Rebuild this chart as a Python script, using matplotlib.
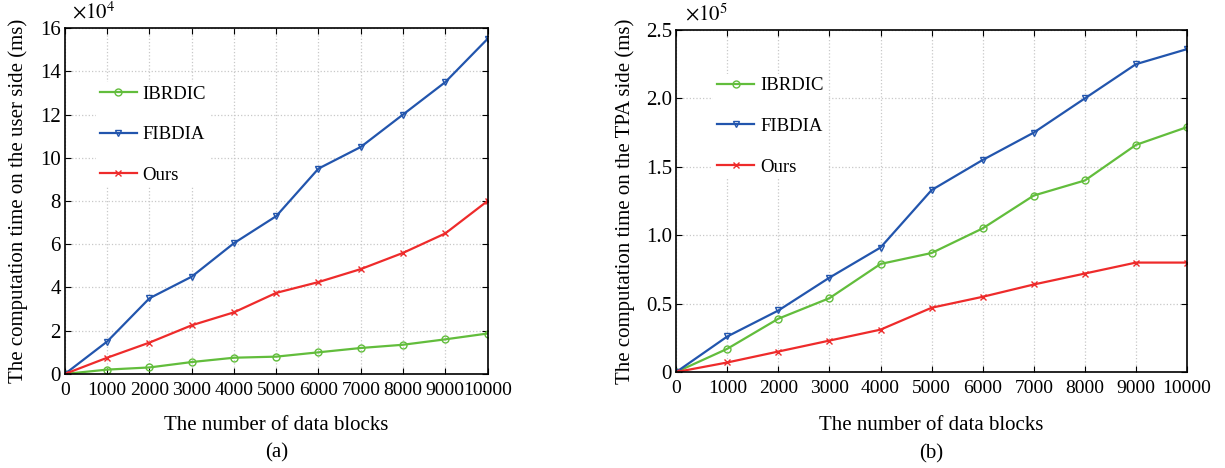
import matplotlib.pyplot as plt
import numpy as np

plt.rcParams['font.family'] = ['Liberation Serif', 'DejaVu Serif']
plt.rcParams['mathtext.fontset'] = 'stix'

blocks = [0, 1000, 2000, 3000, 4000, 5000, 6000, 7000, 8000, 9000, 10000]
names = ['IBRDIC', 'FIBDIA', 'Ours']

# panel (a): user side, x1e4 ms
user_ibrdic = [0, 0.2, 0.3, 0.55, 0.75, 0.8, 1.0, 1.2, 1.35, 1.6, 1.87]
user_fibdia = [0, 1.5, 3.5, 4.5, 6.05, 7.3, 9.5, 10.5, 12.0, 13.5, 15.5]
user_ours = [0, 0.75, 1.45, 2.25, 2.85, 3.75, 4.25, 4.85, 5.6, 6.5, 8.0]

# panel (b): TPA side, x1e5 ms
tpa_ibrdic = [0, 0.17, 0.39, 0.54, 0.79, 0.87, 1.05, 1.29, 1.40, 1.66, 1.79]
tpa_fibdia = [0, 0.26, 0.45, 0.69, 0.91, 1.33, 1.55, 1.75, 2.00, 2.25, 2.36]
tpa_ours = [0, 0.07, 0.15, 0.23, 0.31, 0.47, 0.55, 0.64, 0.72, 0.80, 0.80]

colors = ['#62bd3c', '#2255ad', '#ee2b2b']
markers = ['o', 'v', 'x']

fig = plt.figure(figsize=(12.25, 4.68), dpi=100)
ax1 = fig.add_axes([0.053, 0.201, 0.345, 0.739])
ax2 = fig.add_axes([0.552, 0.205, 0.417, 0.731])

def draw(ax, series, ymax, ystep, yfmt, ylabel, power, tag, ylab_x, xlab_y, tag_y, leg_anchor):
    for s, c, m, n in zip(series, colors, markers, names):
        ax.plot(blocks, s, color=c, marker=m, markersize=5, markerfacecolor='none',
                markeredgewidth=1.0, linewidth=1.6, label=n)
    ax.set_xlim(0, 10000)
    ax.set_ylim(0, ymax)
    ax.set_xticks(blocks)
    yt = np.arange(0, ymax + ystep / 2, ystep)
    ax.set_yticks(yt)
    ax.set_yticklabels(['0'] + [yfmt % v for v in yt[1:]])
    ax.tick_params(direction='in', top=True, right=True, length=4)
    ax.tick_params(axis='x', pad=6, labelsize=14)
    ax.tick_params(axis='y', pad=3, labelsize=15)
    ax.grid(True, linestyle=':', color='#c8c8c8', linewidth=0.9)
    for sp in ax.spines.values():
        sp.set_linewidth(1.2)
    ax.set_xlabel('The number of data blocks', fontsize=15, va='center')
    ax.xaxis.set_label_coords(0.5, xlab_y)
    ax.set_ylabel(ylabel, fontsize=15, va='center')
    ax.yaxis.set_label_coords(ylab_x, 0.5)
    ax.text(0.017, 1.012, r'$\times 10^{%d}$' % power, transform=ax.transAxes,
            fontsize=15, ha='left', va='bottom')
    ax.text(0.5, tag_y, tag, transform=ax.transAxes, fontsize=15, ha='center', va='center')
    leg = ax.legend(loc='upper left', bbox_to_anchor=leg_anchor, frameon=True,
                    fontsize=13.5, labelspacing=1.25, handlelength=2.0,
                    handletextpad=0.3, borderpad=0.2)
    leg.get_frame().set_edgecolor('none')
    leg.get_frame().set_facecolor('white')
    leg.get_frame().set_alpha(1)

draw(ax1, [user_ibrdic, user_fibdia, user_ours], 16, 2, '%d',
     'The computation time on the user side (ms)', 4, '(a)',
     -0.111, -0.148, -0.228, (0.051, 0.872))
draw(ax2, [tpa_ibrdic, tpa_fibdia, tpa_ours], 2.5, 0.5, '%.1f',
     'The computation time on the TPA side (ms)', 5, '(b)',
     -0.100, -0.155, -0.238, (0.054, 0.90))

fig.savefig('out.png', dpi=100)
